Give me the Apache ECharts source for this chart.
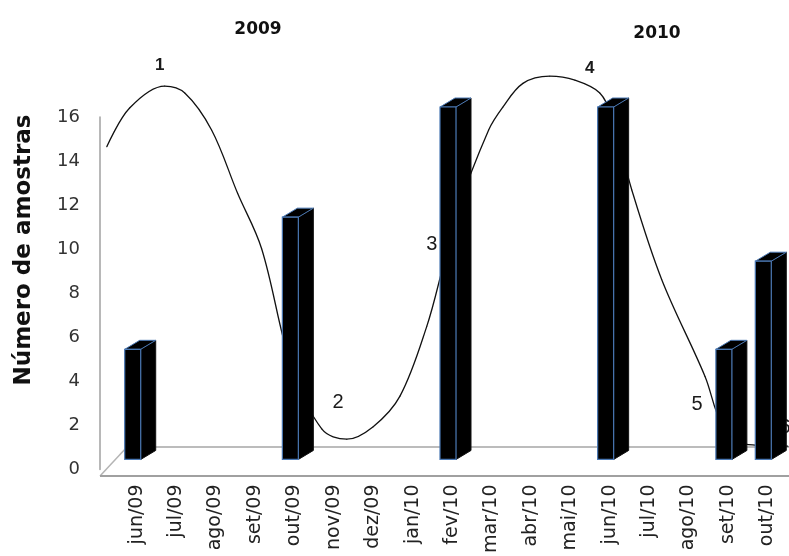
<!DOCTYPE html>
<html>
<head>
<meta charset="utf-8">
<script src="https://cdn.jsdelivr.net/npm/echarts@6/dist/echarts.min.js"></script>
<style>
  html, body { margin: 0; padding: 0; background: #fff; }
  #chart { width: 789px; height: 556px; }
</style>
</head>
<body>
<div id="chart"></div>
<script>
// Month categories along the bottom axis
const months = ['jun/09', 'jul/09', 'ago/09', 'set/09', 'out/09', 'nov/09', 'dez/09', 'jan/10',
  'fev/10', 'mar/10', 'abr/10', 'mai/10', 'jun/10', 'jul/10', 'ago/10', 'set/10', 'out/10'];

// Number of samples per collection month (3D columns)
const barMonths = ['jun/09', 'out/09', 'fev/10', 'jun/10', 'set/10', 'out/10'];
const barValues = [5, 11, 16, 16, 5, 9];

// Trend curve: position in month units (0 = jun/09) and level on the sample scale
const curveX = [-0.76, -0.18, 0.71, 1.22, 1.9, 2.56, 3.17, 3.93, 4.7, 5.33, 6.0, 6.68, 7.36,
  7.77, 8.12, 8.93, 9.29, 9.8, 10.48, 11.12, 11.75, 12.06, 12.56, 13.32, 14.42, 14.85, 15.43, 16.55];
const curveY = [14.67, 16.4, 17.38, 17.07, 15.42, 12.6, 10.13, 4.84, 2.09, 1.64, 2.2, 3.56, 6.67,
  9.33, 11.73, 15.42, 16.44, 17.5, 17.82, 17.64, 17.07, 16.0, 12.76, 8.76, 4.44, 2.31, 1.42, 1.33];

// Numbered campaign markers placed on the curve (index into the curve points)
const campaignNames = ['1', '2', '3', '4', '5', '6'];
const campaignPoints = [2, 8, 13, 20, 24, 27];

// Year captions
const yearLabels = ['2009', '2010'];

const yTicks = { min: 0, max: 16, interval: 2 };

const W = 789, H = 556;
const GRID = { left: 117, right: 2, top: 117, bottom: 80 };
const step = (W - GRID.left - GRID.right) / months.length;   // width of one month
// the curve uses a grid one month wider on the left so its start is not cut
const CURVE_GRID = { left: GRID.left - step, right: GRID.right, top: GRID.top, bottom: GRID.bottom };

const floorY = H - GRID.bottom;          // front edge of the floor
const depthX = 27, depthY = 29;          // floor depth of the 3D wall
const axisX = 100;                        // y axis line position

// label placement for each numbered marker (pixel offset from its curve point)
const campaignLabelStyle = [
  { offset: [-5, -21], fontSize: 17, fontWeight: 'bold' },
  { offset: [16, -27], fontSize: 20, fontWeight: 'normal' },
  { offset: [-11, -22], fontSize: 20, fontWeight: 'normal' },
  { offset: [-10, -25], fontSize: 17, fontWeight: 'bold' },
  { offset: [-8, 28], fontSize: 20, fontWeight: 'normal' },
  { offset: [-4, -19], fontSize: 20, fontWeight: 'normal' }
];

const curveData = curveX.map((x, i) => {
  const k = campaignPoints.indexOf(i);
  const item = { value: [x, curveY[i]] };
  if (k >= 0) {
    const s = campaignLabelStyle[k];
    item.label = {
      show: true,
      position: 'inside',
      formatter: campaignNames[k],
      offset: s.offset,
      fontSize: s.fontSize,
      fontWeight: s.fontWeight,
      color: '#1a1a1a',
      fontFamily: 'Liberation Sans'
    };
  }
  return item;
});

const barData = barMonths.map((m, i) => [months.indexOf(m), barValues[i]]);

// draws one column as a front face, a side face and a top face
function renderColumn(params, api) {
  const p = api.coord([api.value(0), api.value(1)]);
  const b = api.coord([api.value(0), 0]);
  const lift = 10, w = 16, dx = 15, dy = -9;
  const x0 = p[0] - 12;
  const top = p[1] - lift;
  const bottom = b[1] - lift;
  return {
    type: 'group',
    children: [
      {
        type: 'polygon',
        shape: { points: [[x0 + w, top], [x0 + w + dx, top + dy], [x0 + w + dx, bottom + dy], [x0 + w, bottom]] },
        style: { fill: '#000', stroke: '#111', lineWidth: 1 }
      },
      {
        type: 'polygon',
        shape: { points: [[x0, top], [x0 + dx, top + dy], [x0 + w + dx, top + dy], [x0 + w, top]] },
        style: { fill: '#000', stroke: '#4a78b4', lineWidth: 1 }
      },
      {
        type: 'rect',
        shape: { x: x0, y: top, width: w, height: bottom - top },
        style: { fill: '#000', stroke: '#4a78b4', lineWidth: 1.2 }
      }
    ]
  };
}

const chart = echarts.init(document.getElementById('chart'), null, { renderer: 'canvas' });

chart.setOption({
  animation: false,
  backgroundColor: '#fff',
  grid: [GRID, CURVE_GRID],
  xAxis: [
    {
      type: 'category',
      gridIndex: 0,
      data: months,
      boundaryGap: true,
      axisLine: { show: false },
      axisTick: { show: false },
      axisLabel: {
        interval: 0,
        rotate: 90,
        margin: 15,
        fontSize: 19,
        color: '#222',
        fontFamily: 'DejaVu Sans'
      }
    },
    {
      type: 'value',
      gridIndex: 1,
      min: -1.5,
      max: months.length - 0.5,
      show: false
    }
  ],
  yAxis: [
    {
      type: 'value',
      gridIndex: 0,
      min: yTicks.min,
      max: yTicks.max,
      interval: yTicks.interval,
      offset: GRID.left - axisX,
      splitLine: { show: false },
      axisTick: { show: false },
      axisLine: { show: true, onZero: false, lineStyle: { color: '#a0a0a0', width: 1.5 } },
      axisLabel: { margin: 20, fontSize: 18, color: '#333', fontFamily: 'DejaVu Sans' }
    },
    {
      type: 'value',
      gridIndex: 1,
      min: yTicks.min,
      max: yTicks.max,
      show: false
    }
  ],
  graphic: [
    {
      type: 'line', z: 1,
      shape: { x1: axisX, y1: floorY, x2: axisX + depthX, y2: floorY - depthY },
      style: { stroke: '#b4b4b4', lineWidth: 1.5 }
    },
    {
      type: 'line', z: 1,
      shape: { x1: axisX + depthX, y1: floorY - depthY, x2: W, y2: floorY - depthY },
      style: { stroke: '#bcbcbc', lineWidth: 2 }
    },
    {
      type: 'line', z: 1,
      shape: { x1: axisX, y1: floorY, x2: W, y2: floorY },
      style: { stroke: '#a0a0a0', lineWidth: 2 }
    },
    {
      type: 'text', z: 10,
      x: 24, y: 250, rotation: Math.PI / 2,
      style: {
        text: 'Número de amostras', fontSize: 23, fontWeight: 'bold',
        fontFamily: 'DejaVu Sans', fill: '#111', align: 'center', verticalAlign: 'middle'
      }
    },
    {
      type: 'text', z: 10, x: 258, y: 30,
      style: {
        text: yearLabels[0], fontSize: 17, fontWeight: 'bold',
        fontFamily: 'DejaVu Sans', fill: '#111', align: 'center', verticalAlign: 'middle'
      }
    },
    {
      type: 'text', z: 10, x: 657, y: 34,
      style: {
        text: yearLabels[1], fontSize: 17, fontWeight: 'bold',
        fontFamily: 'DejaVu Sans', fill: '#111', align: 'center', verticalAlign: 'middle'
      }
    }
  ],
  series: [
    {
      type: 'line',
      xAxisIndex: 1,
      yAxisIndex: 1,
      data: curveData,
      smooth: 0.35,
      clip: false,
      z: 2,
      symbol: 'circle',
      symbolSize: 1,
      showSymbol: true,
      itemStyle: { color: '#111' },
      lineStyle: { color: '#111', width: 1.3 },
      label: { show: false }
    },
    {
      type: 'custom',
      xAxisIndex: 0,
      yAxisIndex: 0,
      data: barData,
      z: 5,
      clip: false,
      renderItem: renderColumn
    }
  ]
});
</script>
</body>
</html>
